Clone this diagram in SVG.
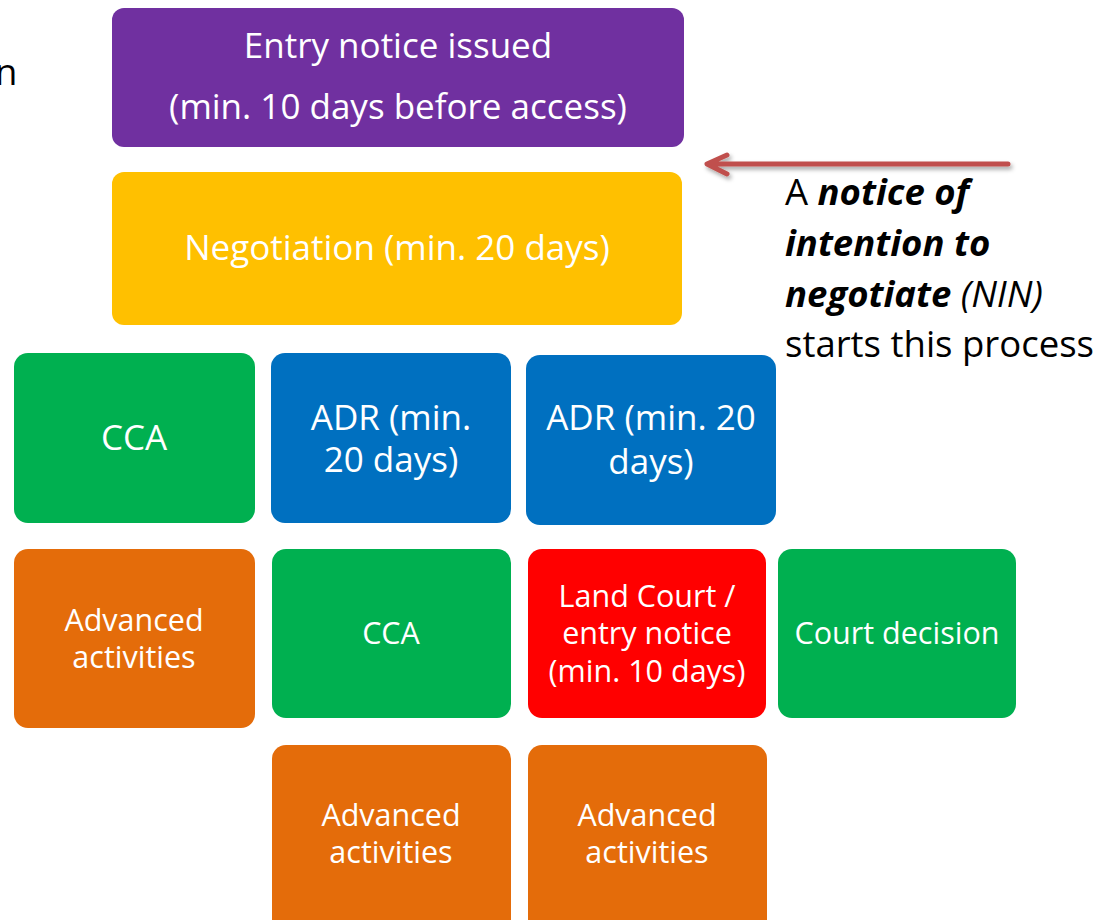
<svg xmlns="http://www.w3.org/2000/svg" width="1100" height="920" viewBox="0 0 1100 920">
<style>
.t{font-family:"Open Sans","Liberation Sans",Arial,sans-serif;fill:#fff;text-anchor:middle}
.big{font-size:35px}
.m{font-size:35px}
.n{font-size:30.5px}
.k{font-family:"Open Sans","Liberation Sans",Arial,sans-serif;fill:#000;font-size:36.5px}
</style>
<defs>
<filter id="sh" x="-10%" y="-50%" width="120%" height="200%">
<feDropShadow dx="2" dy="3" stdDeviation="2" flood-color="#000" flood-opacity="0.35"/>
</filter>
</defs>
<rect width="1100" height="920" fill="#fff"/>
<text class="k" x="-5" y="85">n</text>
<g id="entry"><rect x="112" y="8" width="572" height="139" rx="12" fill="#7030A0"/>
<text class="t big" x="398" y="58">Entry notice issued</text>
<text class="t big" x="398" y="119">(min. 10 days before access)</text></g>
<g id="negotiation"><rect x="112" y="172" width="570" height="153" rx="12" fill="#FFC000"/>
<text class="t big" x="397" y="260">Negotiation (min. 20 days)</text></g>
<g id="cca1"><rect x="14" y="353" width="241" height="170" rx="14" fill="#00B050"/>
<text class="t m" x="134" y="450">CCA</text></g>
<g id="adr1"><rect x="271" y="353" width="240" height="170" rx="14" fill="#0070C0"/>
<text class="t m" x="391" y="430">ADR (min.</text>
<text class="t m" x="391" y="472">20 days)</text></g>
<g id="adr2"><rect x="526" y="355" width="250" height="170" rx="14" fill="#0070C0"/>
<text class="t m" x="651" y="430">ADR (min. 20</text>
<text class="t m" x="651" y="474">days)</text></g>
<g id="adv1"><rect x="14" y="549" width="241" height="179" rx="14" fill="#E46C0A"/>
<text class="t n" x="134" y="631">Advanced</text>
<text class="t n" x="134" y="668">activities</text></g>
<g id="cca2"><rect x="272" y="549" width="239" height="169" rx="14" fill="#00B050"/>
<text class="t n" x="391" y="644">CCA</text></g>
<g id="landcourt"><rect x="528" y="549" width="238" height="169" rx="14" fill="#FF0000"/>
<text class="t n" x="647" y="607">Land Court /</text>
<text class="t n" x="647" y="644">entry notice</text>
<text class="t n" x="647" y="682">(min. 10 days)</text></g>
<g id="court"><rect x="778" y="549" width="238" height="169" rx="14" fill="#00B050"/>
<text class="t n" x="897" y="644">Court decision</text></g>
<g id="adv2"><rect x="272" y="745" width="239" height="190" rx="14" fill="#E46C0A"/>
<text class="t n" x="391" y="826">Advanced</text>
<text class="t n" x="391" y="863">activities</text></g>
<g id="adv3"><rect x="528" y="745" width="239" height="190" rx="14" fill="#E46C0A"/>
<text class="t n" x="647" y="826">Advanced</text>
<text class="t n" x="647" y="863">activities</text></g>
<g id="connectors">
<path d="M1008 164 H708 M727 155 L707 164 L727 174" fill="none" stroke="#C0504D" stroke-width="5" stroke-linecap="round" stroke-linejoin="round" filter="url(#sh)"/>
</g>
<g id="note">
<text class="k" x="785" y="205">A <tspan font-weight="bold" font-style="italic">notice of</tspan></text>
<text class="k" x="785" y="256" font-weight="bold" font-style="italic">intention to</text>
<text class="k" x="785" y="307"><tspan font-weight="bold" font-style="italic">negotiate</tspan> <tspan font-style="italic">(NIN)</tspan></text>
<text class="k" x="785" y="357">starts this process</text>
</g>
</svg>
